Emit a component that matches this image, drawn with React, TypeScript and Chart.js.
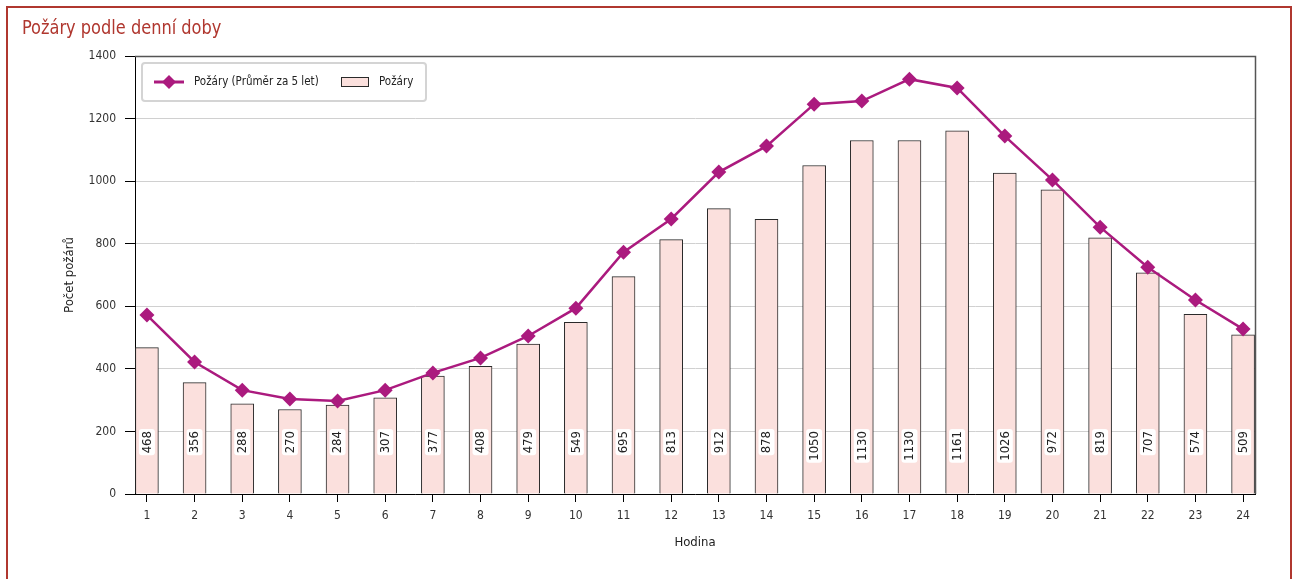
import React, { useEffect, useRef } from "react";
import { Chart, registerables } from "chart.js";

Chart.register(...registerables);

const hours = [1, 2, 3, 4, 5, 6, 7, 8, 9, 10, 11, 12, 13, 14, 15, 16, 17, 18, 19, 20, 21, 22, 23, 24];
const fires = [468, 356, 288, 270, 284, 307, 377, 408, 479, 549, 695, 813, 912, 878, 1050, 1130, 1130, 1161, 1026, 972, 819, 707, 574, 509];
const avg5 = [572, 422, 332, 304, 297, 332, 387, 435, 505, 594, 773, 879, 1029, 1112, 1246, 1256, 1326, 1298, 1144, 1004, 853, 725, 620, 527];
const yTicks = [0, 200, 400, 600, 800, 1000, 1200, 1400];

const TITLE = "Požáry podle denní doby";
const LINE_LABEL = "Požáry (Průměr za 5 let)";
const BAR_LABEL = "Požáry";
const X_TITLE = "Hodina";
const Y_TITLE = "Počet požárů";

const FONT = '"DejaVu Sans Condensed", "Roboto", sans-serif';
const LINE_COLOR = "#ab1a7e";
const BAR_FILL = "#fbe0dd";
const BAR_BORDER = "#2a2a2a";

function roundRect(ctx: CanvasRenderingContext2D, x: number, y: number, w: number, h: number, r: number) {
  ctx.beginPath();
  ctx.moveTo(x + r, y);
  ctx.lineTo(x + w - r, y);
  ctx.quadraticCurveTo(x + w, y, x + w, y + r);
  ctx.lineTo(x + w, y + h - r);
  ctx.quadraticCurveTo(x + w, y + h, x + w - r, y + h);
  ctx.lineTo(x + r, y + h);
  ctx.quadraticCurveTo(x, y + h, x, y + h - r);
  ctx.lineTo(x, y + r);
  ctx.quadraticCurveTo(x, y, x + r, y);
  ctx.closePath();
}

const framePlugin = {
  id: "frameAndLabels",
  afterDatasetsDraw(chart: any) {
    const ctx: CanvasRenderingContext2D = chart.ctx;
    const a = chart.chartArea;
    // top and right border
    ctx.save();
    ctx.strokeStyle = "#555555";
    ctx.lineWidth = 1.5;
    ctx.beginPath();
    ctx.moveTo(a.left, a.top + 0.5);
    ctx.lineTo(a.right + 0.5, a.top + 0.5);
    ctx.lineTo(a.right + 0.5, a.bottom);
    ctx.stroke();
    ctx.restore();

    // bar value labels
    const barIndex = chart.data.datasets.findIndex((d: any) => d.type === "bar");
    const meta = chart.getDatasetMeta(barIndex);
    const values = chart.data.datasets[barIndex].data;
    ctx.save();
    ctx.font = `13px ${FONT}`;
    meta.data.forEach((el: any, i: number) => {
      const v = values[i];
      const text = String(typeof v === "object" ? v.y : v);
      const tw = ctx.measureText(text).width;
      const endY = a.bottom - 63;
      ctx.save();
      ctx.translate(el.x, endY);
      ctx.rotate(-Math.PI / 2);
      ctx.fillStyle = "#ffffff";
      roundRect(ctx, -tw - 2, -8, tw + 4, 16, 3);
      ctx.fill();
      ctx.fillStyle = "#222222";
      ctx.textAlign = "right";
      ctx.textBaseline = "middle";
      ctx.fillText(text, 0, 0.5);
      ctx.restore();
    });
    ctx.restore();
  },
  afterDraw(chart: any) {
    const ctx: CanvasRenderingContext2D = chart.ctx;
    const a = chart.chartArea;
    const bx = a.left + 7;
    const by = a.top + 7;
    const bw = 284;
    const bh = 38;
    ctx.save();
    ctx.strokeStyle = "#d4d4d4";
    ctx.lineWidth = 2;
    ctx.fillStyle = "#ffffff";
    roundRect(ctx, bx, by, bw, bh, 3);
    ctx.fill();
    ctx.stroke();
    const cy = by + bh / 2;
    ctx.strokeStyle = LINE_COLOR;
    ctx.lineWidth = 3;
    ctx.beginPath();
    ctx.moveTo(bx + 12, cy);
    ctx.lineTo(bx + 42, cy);
    ctx.stroke();
    ctx.fillStyle = LINE_COLOR;
    const dx = bx + 27;
    ctx.beginPath();
    ctx.moveTo(dx, cy - 7);
    ctx.lineTo(dx + 7, cy);
    ctx.lineTo(dx, cy + 7);
    ctx.lineTo(dx - 7, cy);
    ctx.closePath();
    ctx.fill();
    ctx.font = `11.5px ${FONT}`;
    ctx.fillStyle = "#222222";
    ctx.textBaseline = "middle";
    ctx.textAlign = "left";
    ctx.fillText(chart.data.datasets[0].label, bx + 52, cy);
    ctx.fillStyle = BAR_FILL;
    ctx.fillRect(bx + 199, cy - 4.5, 27, 9);
    ctx.strokeStyle = BAR_BORDER;
    ctx.lineWidth = 1;
    ctx.strokeRect(bx + 199.5, cy - 4.5, 27, 9);
    ctx.fillStyle = "#222222";
    ctx.fillText(chart.data.datasets[1].label, bx + 237, cy);
    ctx.restore();
  },
};

export default function App() {
  const ref = useRef<HTMLCanvasElement | null>(null);

  useEffect(() => {
    document.body.style.overflow = "hidden";
    const canvas = ref.current;
    if (!canvas) return;
    Chart.defaults.font.family = FONT;
    const chart = new Chart(canvas, {
      data: {
        datasets: [
          {
            type: "line",
            label: LINE_LABEL,
            data: hours.map((h, i) => ({ x: h, y: avg5[i] })),
            borderColor: LINE_COLOR,
            backgroundColor: LINE_COLOR,
            borderWidth: 2.5,
            pointStyle: "rectRot",
            pointRadius: 7.5,
            pointBackgroundColor: LINE_COLOR,
            pointBorderColor: LINE_COLOR,
            pointBorderWidth: 0,
            tension: 0,
          },
          {
            type: "bar",
            label: BAR_LABEL,
            data: hours.map((h, i) => ({ x: h, y: fires[i] })),
            backgroundColor: BAR_FILL,
            borderColor: BAR_BORDER,
            borderWidth: 1,
            barThickness: 23,
          },
        ],
      },
      options: {
        responsive: false,
        animation: false,
        devicePixelRatio: 1,
        layout: { padding: { left: 0, right: 41, top: 56, bottom: 0 } },
        plugins: {
          legend: { display: false },
          tooltip: { enabled: false },
          title: { display: false },
        },
        scales: {
          x: {
            type: "linear",
            min: 0.75,
            max: 24.25,
            offset: false,
            afterBuildTicks: (scale: any) => {
              scale.ticks = hours.map((h) => ({ value: h }));
            },
            afterFit: (scale: any) => {
              scale.height = 85;
            },
            grid: { offset: false, drawOnChartArea: false, drawTicks: true, tickLength: 8, tickColor: "#000000" },
            border: { display: true, color: "#000000", width: 1 },
            ticks: { color: "#333333", font: { size: 12 }, padding: 7, callback: (v: any) => String(v) },
            title: { display: true, text: X_TITLE, color: "#222222", font: { size: 13 }, padding: { top: 0, bottom: 29 } },
          },
          y: {
            type: "linear",
            min: 0,
            max: 1400,
            afterBuildTicks: (scale: any) => {
              scale.ticks = yTicks.map((v) => ({ value: v }));
            },
            afterFit: (scale: any) => {
              scale.width = 135;
            },
            grid: { color: "#d0d0d0", lineWidth: 1, drawTicks: true, tickLength: 10, tickColor: "#000000" },
            border: { display: true, color: "#000000", width: 1 },
            ticks: { color: "#333333", font: { size: 12 }, padding: 9, callback: (v: any) => String(v) },
            title: { display: true, text: Y_TITLE, color: "#222222", font: { size: 13 }, padding: { top: 62, bottom: 0 } },
          },
        },
      },
      plugins: [framePlugin],
    } as any);
    return () => chart.destroy();
  }, []);

  return (
    <div>
      <div
        style={{
          position: "fixed",
          left: 6,
          top: 6,
          width: 1286,
          height: 620,
          border: "2px solid #b0372f",
          boxSizing: "border-box",
        }}
      />
      <div
        style={{
          position: "fixed",
          left: 22,
          top: 14,
          fontFamily: FONT,
          fontSize: 20,
          lineHeight: "26px",
          color: "#b0372f",
          whiteSpace: "nowrap",
          transform: "scaleX(0.9)",
          transformOrigin: "0 0",
        }}
      >
        {TITLE}
      </div>
      <canvas
        ref={ref}
        width={1296}
        height={579}
        style={{ position: "fixed", left: 0, top: 0, width: 1296, height: 579 }}
      />
    </div>
  );
}
